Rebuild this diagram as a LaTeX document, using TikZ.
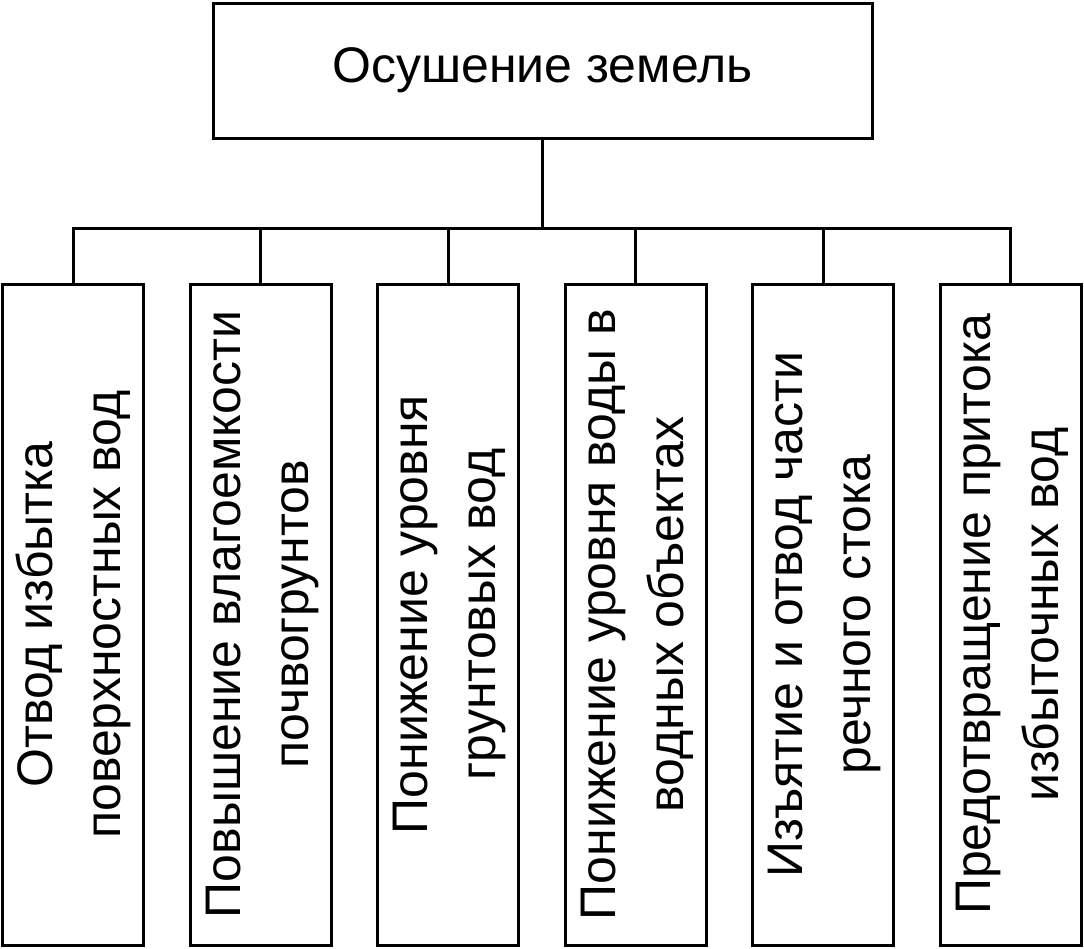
\documentclass[tikz,border=0pt]{standalone}
\usepackage{fontspec}
\setmainfont{Liberation Sans}
\usetikzlibrary{positioning}
\tikzset{every picture/.style={font issue=\fontsize{50}{68}},
         font issue/.style={execute at begin picture={#1\selectfont}},
         topbox/.style={draw, line width=3pt, minimum width=659pt, minimum height=135pt},
         leafbox/.style={draw, line width=3pt, minimum width=141pt, minimum height=661pt, inner sep=0pt},
         link/.style={line width=3pt}
        }
\newcommand{\vtext}[2]{\rotatebox{90}{\begin{tabular}{@{}c@{}}#1\\#2\end{tabular}}}

\begin{document}
\begin{tikzpicture}[x=1pt, y=-1pt, node distance = 43.5pt]
\useasboundingbox (0,0) rectangle (1084,948);
\node[topbox](drain) at (542.5,70.5){Осушение земель};
\coordinate (bus) at (542.5,228);

%leaves
\node[leafbox](surface) at (73,614.5){\vtext{Отвод избытка}{поверхностных вод}};
\node[leafbox, right = of surface](moisture){\vtext{Повышение влагоемкости}{почвогрунтов}};
\node[leafbox, right = of moisture](ground){\vtext{Понижение уровня}{грунтовых вод}};
\node[leafbox, right = of ground](water){\vtext{Понижение уровня воды в}{водных объектах}};
\node[leafbox, right = of water](runoff){\vtext{Изъятие и отвод части}{речного стока}};
\node[leafbox, right = of runoff](inflow){\vtext{Предотвращение притока}{избыточных вод}};

%lines
\draw[link] (drain) -- (bus);
\draw[link, line cap=rect] (bus -| surface.north) -- (bus -| inflow.north);
\foreach \leaf in {surface, moisture, ground, water, runoff, inflow}
  \draw[link] (bus -| \leaf.north) -- (\leaf.north);

\end{tikzpicture}
\end{document}
